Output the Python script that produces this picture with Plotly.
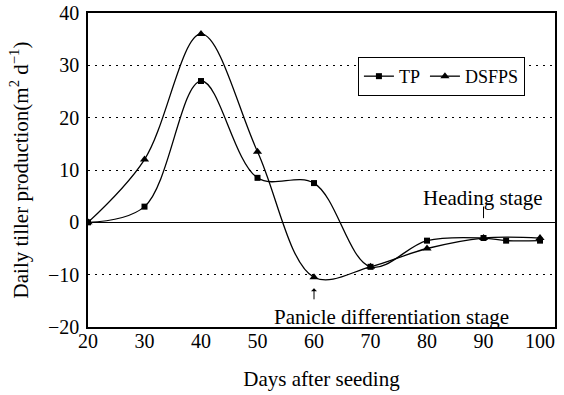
import plotly.graph_objects as go

tp_days = [20, 30, 40, 50, 60, 70, 80, 90, 94, 100]
tp_vals = [0, 3, 27, 8.5, 7.5, -8.5, -3.5, -3, -3.5, -3.5]
ds_days = [20, 30, 40, 50, 60, 70, 80, 90, 100]
ds_vals = [0, 12, 36, 13.5, -10.5, -8.5, -5, -3, -3]
y_ticks = [-20, -10, 0, 10, 20, 30, 40]
x_ticks = [20, 30, 40, 50, 60, 70, 80, 90, 100]

FONT = "Liberation Serif, Times New Roman, DejaVu Serif, serif"

fig = go.Figure()
fig.add_trace(go.Scatter(x=tp_days, y=tp_vals, name="TP", mode="lines+markers",
                         line=dict(color="black", width=1.3, shape="spline", smoothing=1),
                         marker=dict(symbol="square", size=6, color="black")))
fig.add_trace(go.Scatter(x=ds_days, y=ds_vals, name="DSFPS", mode="lines+markers",
                         line=dict(color="black", width=1.3, shape="spline", smoothing=1),
                         marker=dict(symbol="triangle-up", size=8, color="black")))

fig.update_layout(
    width=564, height=395,
    margin=dict(l=88, r=9, t=13, b=68, autoexpand=False),
    paper_bgcolor="white", plot_bgcolor="white",
    font=dict(family=FONT, size=20, color="black"),
    legend=dict(orientation="h", x=0.578, y=0.86, xanchor="left", yanchor="top",
                bgcolor="white", bordercolor="black", borderwidth=1, itemwidth=30,
                font=dict(size=18, family=FONT)),
    xaxis=dict(range=[20, 102.65], tickvals=x_ticks, showgrid=False, zeroline=False,
               showline=True, linecolor="black", linewidth=1.5, mirror=True,
               ticks="", ticklabelstandoff=-5,
               title=dict(text="Days after seeding", standoff=21, font=dict(size=21))),
    yaxis=dict(range=[-20, 40], tickvals=y_ticks, showgrid=True, gridcolor="black",
               gridwidth=1, griddash="2px,5px", zeroline=True, zerolinecolor="black",
               zerolinewidth=1, showline=True, linecolor="black", linewidth=1.5,
               mirror=True, ticks="", ticklabelstandoff=3,
               title=dict(text="Daily tiller production(m<sup>2</sup> d<sup>−1</sup>)",
                          standoff=14, font=dict(size=21))),
    showlegend=True,
)

fig.add_annotation(x=89.9, y=4.6, text="Heading stage", showarrow=False,
                   font=dict(size=21, family=FONT))
fig.add_annotation(x=90, y=0.8, ax=90, ay=3.3, axref="x", ayref="y", text="",
                   showarrow=True, arrowhead=0, arrowwidth=1, arrowcolor="black")
fig.add_annotation(x=73.8, y=-18.1, text="Panicle differentiation stage", showarrow=False,
                   font=dict(size=21, family=FONT))
fig.add_annotation(x=60, y=-12.6, ax=60, ay=-15, axref="x", ayref="y", text="",
                   showarrow=True, arrowhead=1, arrowsize=1, arrowwidth=1, arrowcolor="black")

fig.write_html("out.html", config={"displayModeBar": False},
               post_script="document.body.style.margin='0';")
